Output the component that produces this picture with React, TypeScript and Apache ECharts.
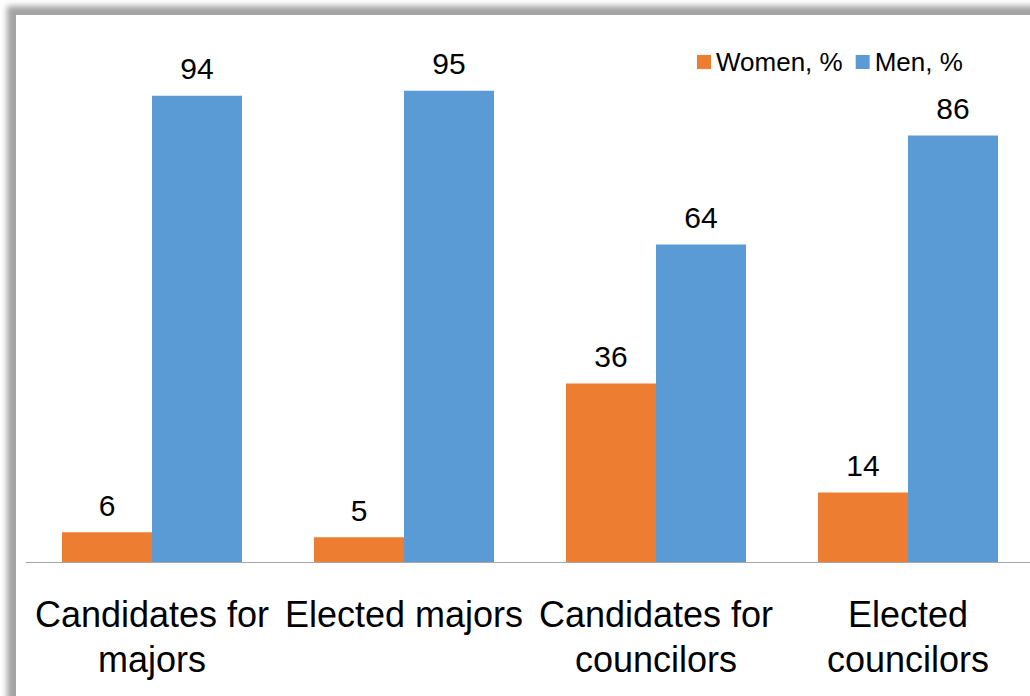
import React, { useEffect, useRef } from "react";
import * as echarts from "echarts";

const categories = [
  "Candidates for\nmajors",
  "Elected majors",
  "Candidates for\ncouncilors",
  "Elected\ncouncilors",
];
const women = [6, 5, 36, 14];
const men = [94, 95, 64, 86];
const seriesNames = ["Women, %", "Men, %"];

const FONT = "'Liberation Sans', Arial, sans-serif";

export default function App() {
  const ref = useRef<HTMLDivElement>(null);
  useEffect(() => {
    if (!ref.current) return;
    const chart = echarts.init(ref.current, undefined, { renderer: "svg" });
    chart.setOption({
      animation: false,
      backgroundColor: "#ffffff",
      textStyle: { fontFamily: FONT },
      legend: {
        left: 681,
        top: 34,
        padding: 0,
        itemWidth: 14,
        itemHeight: 14,
        itemGap: 13,
        icon: "rect",
        textStyle: { fontSize: 26, color: "#000", fontFamily: FONT },
        data: seriesNames,
      },
      grid: { left: 10, top: 51, width: 1008, height: 496 },
      xAxis: {
        type: "category",
        data: categories,
        axisLine: { lineStyle: { color: "#a6a6a6", width: 1 } },
        axisTick: { show: false },
        axisLabel: {
          interval: 0,
          fontSize: 36,
          lineHeight: 45,
          color: "#000",
          margin: 30,
          fontFamily: FONT,
        },
      },
      yAxis: {
        type: "value",
        min: 0,
        max: 100,
        show: false,
        splitLine: { show: false },
      },
      series: [
        {
          name: seriesNames[0],
          type: "bar",
          data: women,
          barWidth: 90,
          barGap: "0%",
          itemStyle: { color: "#ED7D31" },
          label: {
            show: true,
            position: "top",
            distance: 12,
            fontSize: 30,
            color: "#000",
            fontFamily: FONT,
          },
        },
        {
          name: seriesNames[1],
          type: "bar",
          data: men,
          barWidth: 90,
          barGap: "0%",
          itemStyle: { color: "#5B9BD5" },
          label: {
            show: true,
            position: "top",
            distance: 12,
            fontSize: 30,
            color: "#000",
            fontFamily: FONT,
          },
        },
      ],
    });
    return () => chart.dispose();
  }, []);
  return (
    <div
      style={{
        position: "absolute",
        left: 0,
        top: 0,
        width: 1030,
        height: 696,
        background: "#fff",
        overflow: "hidden",
      }}
    >
      <div
        ref={ref}
        style={{
          position: "absolute",
          left: 16,
          top: 15,
          width: 1040,
          height: 700,
          boxShadow: "0 0 6px 9px #a3a3a3",
        }}
      />
    </div>
  );
}
